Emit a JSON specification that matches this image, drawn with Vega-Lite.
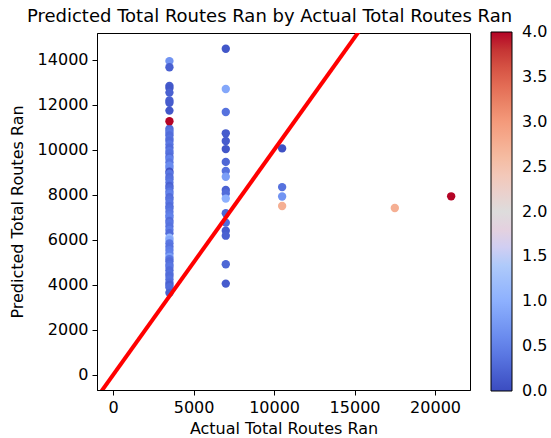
{
  "$schema": "https://vega.github.io/schema/vega-lite/v6.json",
  "width": 373,
  "height": 357,
  "autosize": {"type": "none"},
  "padding": {"left": 97, "top": 33, "right": 81, "bottom": 48},
  "background": "white",
  "config": {
    "font": "DejaVu Sans",
    "view": {"stroke": "black", "strokeWidth": 1},
    "axis": {
      "grid": false,
      "domainColor": "black",
      "tickColor": "black",
      "tickSize": 5,
      "labelColor": "black",
      "labelFontSize": 16,
      "titleFontSize": 16,
      "titleFontWeight": "normal",
      "titleColor": "black",
      "labelPadding": 4
    }
  },
  "title": {
    "text": "Predicted Total Routes Ran by Actual Total Routes Ran",
    "fontSize": 18,
    "fontWeight": "normal",
    "color": "black",
    "anchor": "middle",
    "dx": -14,
    "offset": 6
  },
  "datasets": {
    "pts": [
      {"actual": 3500, "predicted": 13950, "hue": 0.7},
      {"actual": 3500, "predicted": 13680, "hue": 0.2},
      {"actual": 3500, "predicted": 12850, "hue": 0.15},
      {"actual": 3500, "predicted": 12750, "hue": 0.1},
      {"actual": 3500, "predicted": 12550, "hue": 0.2},
      {"actual": 3500, "predicted": 12200, "hue": 0.2},
      {"actual": 3500, "predicted": 12100, "hue": 0.15},
      {"actual": 3500, "predicted": 11750, "hue": 0.1},
      {"actual": 3500, "predicted": 10950, "hue": 0.3},
      {"actual": 3500, "predicted": 10850, "hue": 0.35},
      {"actual": 3500, "predicted": 10750, "hue": 0.4},
      {"actual": 3500, "predicted": 10650, "hue": 0.3},
      {"actual": 3500, "predicted": 10500, "hue": 0.35},
      {"actual": 3500, "predicted": 10400, "hue": 0.3},
      {"actual": 3500, "predicted": 10250, "hue": 0.4},
      {"actual": 3500, "predicted": 10100, "hue": 0.3},
      {"actual": 3500, "predicted": 9950, "hue": 0.4},
      {"actual": 3500, "predicted": 9850, "hue": 0.35},
      {"actual": 3500, "predicted": 9700, "hue": 0.3},
      {"actual": 3500, "predicted": 9600, "hue": 0.5},
      {"actual": 3500, "predicted": 9450, "hue": 0.4},
      {"actual": 3500, "predicted": 9300, "hue": 0.6},
      {"actual": 3500, "predicted": 9200, "hue": 0.6},
      {"actual": 3500, "predicted": 9030, "hue": 0.05},
      {"actual": 3500, "predicted": 8950, "hue": 0.4},
      {"actual": 3500, "predicted": 8800, "hue": 0.3},
      {"actual": 3500, "predicted": 8700, "hue": 0.35},
      {"actual": 3500, "predicted": 8550, "hue": 0.4},
      {"actual": 3500, "predicted": 8400, "hue": 0.2},
      {"actual": 3500, "predicted": 8300, "hue": 0.3},
      {"actual": 3500, "predicted": 8150, "hue": 0.4},
      {"actual": 3500, "predicted": 8050, "hue": 0.5},
      {"actual": 3500, "predicted": 7900, "hue": 0.3},
      {"actual": 3500, "predicted": 7800, "hue": 0.35},
      {"actual": 3500, "predicted": 7650, "hue": 0.4},
      {"actual": 3500, "predicted": 7500, "hue": 0.3},
      {"actual": 3500, "predicted": 7400, "hue": 0.35},
      {"actual": 3500, "predicted": 7250, "hue": 0.4},
      {"actual": 3500, "predicted": 7100, "hue": 0.45},
      {"actual": 3500, "predicted": 7000, "hue": 0.5},
      {"actual": 3500, "predicted": 6850, "hue": 0.3},
      {"actual": 3500, "predicted": 6750, "hue": 0.4},
      {"actual": 3500, "predicted": 6600, "hue": 0.35},
      {"actual": 3500, "predicted": 6450, "hue": 0.45},
      {"actual": 3500, "predicted": 6300, "hue": 0.3},
      {"actual": 3500, "predicted": 6100, "hue": 1.1},
      {"actual": 3500, "predicted": 6000, "hue": 0.9},
      {"actual": 3500, "predicted": 5850, "hue": 0.4},
      {"actual": 3500, "predicted": 5700, "hue": 0.35},
      {"actual": 3500, "predicted": 5550, "hue": 0.45},
      {"actual": 3500, "predicted": 5400, "hue": 0.5},
      {"actual": 3500, "predicted": 5250, "hue": 0.8},
      {"actual": 3500, "predicted": 5150, "hue": 0.4},
      {"actual": 3500, "predicted": 5050, "hue": 0.3},
      {"actual": 3500, "predicted": 4900, "hue": 0.35},
      {"actual": 3500, "predicted": 4800, "hue": 0.4},
      {"actual": 3500, "predicted": 4650, "hue": 0.3},
      {"actual": 3500, "predicted": 4500, "hue": 0.35},
      {"actual": 3500, "predicted": 4400, "hue": 0.3},
      {"actual": 3500, "predicted": 4250, "hue": 0.35},
      {"actual": 3500, "predicted": 4100, "hue": 0.3},
      {"actual": 3500, "predicted": 4000, "hue": 0.2},
      {"actual": 3500, "predicted": 3900, "hue": 0.3},
      {"actual": 3500, "predicted": 3650, "hue": 0.2},
      {"actual": 3500, "predicted": 11280, "hue": 4.0},
      {"actual": 7000, "predicted": 14500, "hue": 0.1},
      {"actual": 7000, "predicted": 12710, "hue": 0.9},
      {"actual": 7000, "predicted": 11690, "hue": 0.35},
      {"actual": 7000, "predicted": 10740, "hue": 0.15},
      {"actual": 7000, "predicted": 10400, "hue": 0.15},
      {"actual": 7000, "predicted": 10040, "hue": 0.1},
      {"actual": 7000, "predicted": 9470, "hue": 0.25},
      {"actual": 7000, "predicted": 9070, "hue": 0.35},
      {"actual": 7000, "predicted": 8810, "hue": 0.8},
      {"actual": 7000, "predicted": 8220, "hue": 0.2},
      {"actual": 7000, "predicted": 8070, "hue": 0.3},
      {"actual": 7000, "predicted": 7840, "hue": 1.0},
      {"actual": 7000, "predicted": 7190, "hue": 0.25},
      {"actual": 7000, "predicted": 6770, "hue": 0.3},
      {"actual": 7000, "predicted": 6410, "hue": 0.15},
      {"actual": 7000, "predicted": 6190, "hue": 0.2},
      {"actual": 7000, "predicted": 4920, "hue": 0.25},
      {"actual": 7000, "predicted": 4060, "hue": 0.15},
      {"actual": 10500, "predicted": 10070, "hue": 0.05},
      {"actual": 10500, "predicted": 8350, "hue": 0.35},
      {"actual": 10500, "predicted": 7930, "hue": 0.7},
      {"actual": 10500, "predicted": 7510, "hue": 2.75},
      {"actual": 17500, "predicted": 7420, "hue": 2.75},
      {"actual": 21000, "predicted": 7940, "hue": 4.0}
    ],
    "line": [
      {"actual": -1000, "predicted": -1000},
      {"actual": 23000, "predicted": 23000}
    ]
  },
  "layer": [
    {
      "data": {"name": "pts"},
      "mark": {"type": "circle", "size": 70, "opacity": 1},
      "encoding": {
        "x": {
          "field": "actual",
          "type": "quantitative",
          "title": "Actual Total Routes Ran",
          "scale": {"domain": [-1000, 22170], "nice": false, "zero": false},
          "axis": {"values": [0, 5000, 10000, 15000, 20000], "format": "d", "titlePadding": 5}
        },
        "y": {
          "field": "predicted",
          "type": "quantitative",
          "title": "Predicted Total Routes Ran",
          "scale": {"domain": [-670, 15200], "nice": false, "zero": false},
          "axis": {"values": [0, 2000, 4000, 6000, 8000, 10000, 12000, 14000], "format": "d", "titlePadding": 12}
        },
        "color": {
          "field": "hue",
          "type": "quantitative",
          "scale": {
            "type": "linear",
            "domain": [0, 0.5, 1, 1.5, 2, 2.5, 3, 3.5, 4],
            "range": ["#3b4cc0", "#6282ea", "#8db0fe", "#b8d0f9", "#dddcdc", "#f5c4ad", "#f49a7b", "#de604d", "#b40426"]
          },
          "legend": {
            "orient": "none",
            "legendX": 394,
            "legendY": -1,
            "direction": "vertical",
            "title": null,
            "gradientLength": 359,
            "gradientThickness": 21,
            "gradientStrokeColor": "black",
            "gradientStrokeWidth": 1,
            "values": [0, 0.5, 1, 1.5, 2, 2.5, 3, 3.5, 4],
            "format": ".1f",
            "labelFontSize": 16,
            "labelColor": "black",
            "labelOverlap": false,
            "labelOffset": 10,
            "encoding": {"labels": {"baseline": {"value": "middle"}}}
          }
        }
      }
    },
    {
      "data": {"name": "line"},
      "mark": {"type": "line", "color": "red", "strokeWidth": 4, "clip": true},
      "encoding": {
        "x": {"field": "actual", "type": "quantitative"},
        "y": {"field": "predicted", "type": "quantitative"}
      }
    }
  ]
}
